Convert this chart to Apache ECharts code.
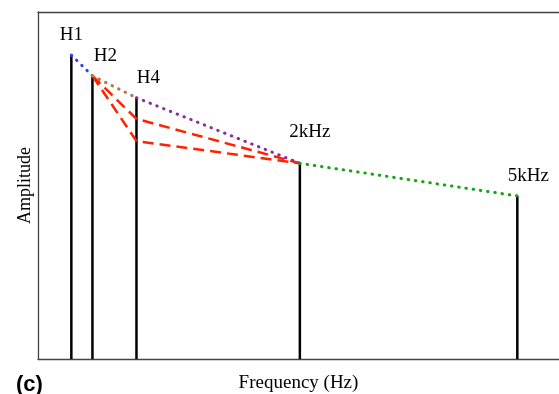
<!DOCTYPE html>
<html>
<head>
<meta charset="utf-8">
<script src="https://cdn.jsdelivr.net/npm/echarts@6/dist/echarts.min.js"></script>
<style>
  html, body { margin: 0; padding: 0; background: #fff; }
  #chart { width: 559px; height: 394px; }
</style>
</head>
<body>
<div id="chart"></div>
<script>
// harmonic positions (schematic frequency units) and amplitudes
const harmonicLabels = ['H1', 'H2', 'H4', '2kHz', '5kHz'];
const harmonicFreqs = [6.4, 10.45, 18.9, 50.26, 92.0];
const harmonicAmps = [87.6, 81.6, 75.3, 56.4, 47.0];

// envelope segments (dotted)
const envBlue = [[6.4, 87.6], [10.45, 81.6]];
const envBrown = [[10.45, 81.6], [18.9, 75.3]];
const envPurple = [[18.9, 75.3], [50.26, 56.4]];
const envGreen = [[50.26, 56.4], [92.0, 47.0]];

// alternative envelopes through lowered H4 (dashed red)
const altUpper = [[10.45, 81.6], [18.9, 69.2], [50.26, 56.4]];
const altLower = [[10.45, 81.6], [18.9, 62.8], [50.26, 56.4]];

const labelOffsets = [[0, -20], [13, -20], [12, -20], [10, -31], [11, -20]];

const serif = '"Liberation Serif", "DejaVu Serif", serif';
const frameColor = '#444';

const chart = echarts.init(document.getElementById('chart'));

const dotted = (data, color) => ({
  type: 'line',
  data: data,
  symbol: 'none',
  silent: true,
  lineStyle: { color: color, width: 3, type: [0.5, 6.8], cap: 'round' },
  z: 4
});

const dashed = (data) => ({
  type: 'line',
  data: data,
  symbol: 'none',
  silent: true,
  lineStyle: { color: '#ff2200', width: 2.5, type: [11, 6] },
  z: 3
});

const option = {
  animation: false,
  title: {
    text: '(c)',
    left: 16,
    top: 374,
    padding: 0,
    textStyle: { fontFamily: '"Liberation Sans", Arial, sans-serif', fontWeight: 'bold', fontSize: 22, color: '#000' }
  },
  grid: { left: 38, top: 12, right: 0, bottom: 35, outerBoundsMode: 'none' },
  xAxis: [
    {
      type: 'value', min: 0, max: 100, position: 'bottom',
      name: 'Frequency (Hz)', nameLocation: 'middle', nameGap: 15,
      nameTextStyle: { fontFamily: serif, fontSize: 19, color: '#000' },
      axisLine: { show: true, lineStyle: { color: frameColor, width: 1.3 } },
      axisTick: { show: false }, axisLabel: { show: false }, splitLine: { show: false }
    },
    {
      type: 'value', min: 0, max: 100, position: 'top',
      axisLine: { show: true, lineStyle: { color: frameColor, width: 1.3 } },
      axisTick: { show: false }, axisLabel: { show: false }, splitLine: { show: false }
    }
  ],
  yAxis: {
    type: 'value', min: 0, max: 100,
    name: 'Amplitude', nameLocation: 'middle', nameGap: 4,
    nameTextStyle: { fontFamily: serif, fontSize: 18, color: '#000' },
    axisLine: { show: true, lineStyle: { color: frameColor, width: 1.3 } },
    axisTick: { show: false }, axisLabel: { show: false }, splitLine: { show: false }
  },
  series: [
    {
      type: 'bar',
      barWidth: 2.5,
      silent: true,
      itemStyle: { color: '#000' },
      data: harmonicFreqs.map((f, i) => [f, harmonicAmps[i]]),
      z: 2
    },
    dashed(altUpper),
    dashed(altLower),
    dotted(envBlue, '#2a44ff'),
    dotted(envBrown, '#b07a45'),
    dotted(envPurple, '#8e2a9e'),
    dotted(envGreen, '#17a317'),
    {
      type: 'scatter',
      symbolSize: 0,
      silent: true,
      data: harmonicFreqs.map((f, i) => ({
        value: [f, harmonicAmps[i]],
        name: harmonicLabels[i],
        label: { offset: labelOffsets[i] }
      })),
      label: {
        show: true,
        position: 'inside',
        formatter: '{b}',
        fontFamily: serif,
        fontSize: 19,
        color: '#000',
        opacity: 1
      },
      itemStyle: { opacity: 1 },
      z: 5
    }
  ]
};

chart.setOption(option);
</script>
</body>
</html>
